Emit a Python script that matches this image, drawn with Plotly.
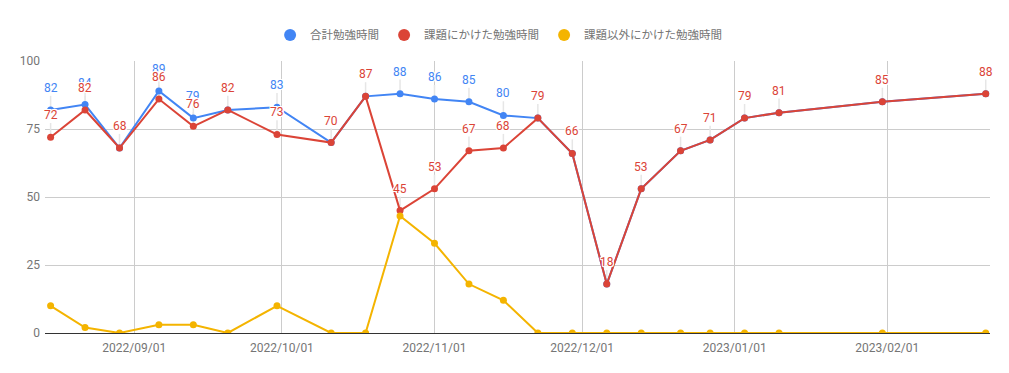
import plotly.graph_objects as go

dates = ["2022-08-15", "2022-08-22", "2022-08-29", "2022-09-06", "2022-09-13",
         "2022-09-20", "2022-09-30", "2022-10-11", "2022-10-18", "2022-10-25",
         "2022-11-01", "2022-11-08", "2022-11-15", "2022-11-22", "2022-11-29",
         "2022-12-06", "2022-12-13", "2022-12-21", "2022-12-27", "2023-01-03",
         "2023-01-10", "2023-01-31", "2023-02-21"]
total = [82, 84, 68, 89, 79, 82, 83, 70, 87, 88, 86, 85, 80, 79, 66, 18, 53, 67, 71, 79, 81, 85, 88]
task = [72, 82, 68, 86, 76, 82, 73, 70, 87, 45, 53, 67, 68, 79, 66, 18, 53, 67, 71, 79, 81, 85, 88]
other = [10, 2, 0, 3, 3, 0, 10, 0, 0, 43, 33, 18, 12, 0, 0, 0, 0, 0, 0, 0, 0, 0, 0]

names = ["合計勉強時間", "課題にかけた勉強時間", "課題以外にかけた勉強時間"]
colors = ["#4285F4", "#DB4437", "#F4B400"]
month_ticks = ["2022-09-01", "2022-10-01", "2022-11-01", "2022-12-01", "2023-01-01", "2023-02-01"]
month_labels = ["2022/09/01", "2022/10/01", "2022/11/01", "2022/12/01", "2023/01/01", "2023/02/01"]
y_ticks = [0, 25, 50, 75, 100]

FONT = "Roboto, 'Noto Sans CJK JP', sans-serif"
STEM = 5.2  # stem length in value units (below the label)
fig = go.Figure()

# label stems, drawn underneath everything
sx, sy = [], []
for d, t, k in zip(dates, total, task):
    if t != k:
        sx += [d, d, None]
        sy += [t, t + STEM, None]
    sx += [d, d, None]
    sy += [k, k + STEM, None]
fig.add_trace(go.Scatter(x=sx, y=sy, mode="lines", line=dict(color="#e6e6e6", width=1.5),
                         showlegend=False, hoverinfo="skip", cliponaxis=False))

for vals, name, col in zip([total, task, other], names, colors):
    fig.add_trace(go.Scatter(
        x=dates, y=vals, mode="lines+markers", name=name,
        line=dict(color=col, width=2), marker=dict(color=col, size=7),
        showlegend=False, hoverinfo="x+y+name"))

for name, col in zip(names, colors):
    fig.add_trace(go.Scatter(x=[None], y=[None], mode="markers", name=name,
                             marker=dict(color=col, size=12)))

halo = "1px 1px 0 #fff, -1px -1px 0 #fff, 1px -1px 0 #fff, -1px 1px 0 #fff, 0 1px 0 #fff, 0 -1px 0 #fff, 1px 0 0 #fff, -1px 0 0 #fff"
annotations = []
for d, t, k in zip(dates, total, task):
    if t != k:
        annotations.append(dict(x=d, y=t, text=str(t), showarrow=False, yshift=22,
                                xanchor="center", yanchor="middle",
                                font=dict(family=FONT, size=12, color=colors[0], shadow=halo)))
for d, k in zip(dates, task):
    annotations.append(dict(x=d, y=k, text=str(k), showarrow=False, yshift=22,
                            xanchor="center", yanchor="middle",
                            font=dict(family=FONT, size=12, color=colors[1], shadow=halo)))

fig.update_layout(
    width=1009, height=373,
    margin=dict(l=37, r=27, t=45, b=48),
    paper_bgcolor="white", plot_bgcolor="white",
    font=dict(family=FONT, size=12, color="#757575"),
    annotations=annotations,
    legend=dict(orientation="h", x=0.48, xanchor="center", y=1.096, yanchor="middle",
                font=dict(size=11.5, color="#757575"), itemsizing="trace"),
    xaxis=dict(type="date", range=["2022-08-13 20:40", "2023-02-21 20:50"],
               tickvals=month_ticks, ticktext=month_labels,
               showgrid=True, gridcolor="#cccccc", gridwidth=1,
               showline=True, linecolor="#333333", linewidth=1,
               ticks="", ticklabelstandoff=4, zeroline=False, layer="above traces",
               tickfont=dict(size=12, color="#757575")),
    yaxis=dict(range=[0, 100], tickvals=y_ticks, showgrid=True, gridcolor="#cccccc",
               zeroline=False, ticks="", ticklabelstandoff=4,
               tickfont=dict(size=12, color="#757575")),
    hovermode="closest",
)

fig.write_html("out.html")
